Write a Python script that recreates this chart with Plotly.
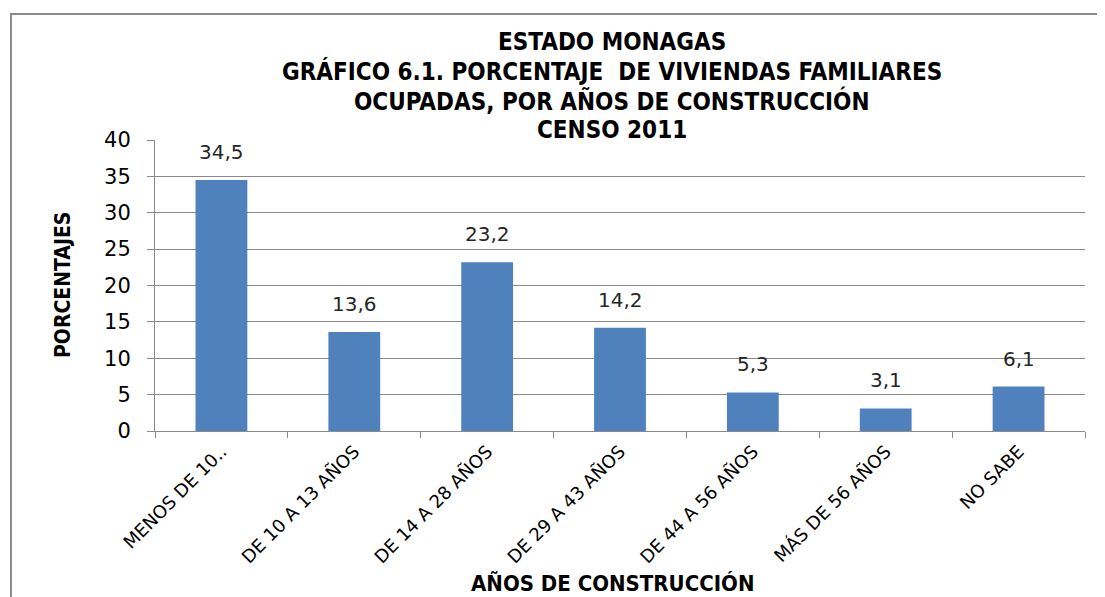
import plotly.graph_objects as go

categories = ["MENOS DE 10..", "DE 10 A 13 AÑOS", "DE 14 A 28 AÑOS", "DE 29 A 43 AÑOS",
              "DE 44 A 56 AÑOS", "MÁS DE 56 AÑOS", "NO SABE"]
values = [34.5, 13.6, 23.2, 14.2, 5.3, 3.1, 6.1]
labels = [f"{v:.1f}".replace(".", ",") for v in values]

title_lines = ["ESTADO MONAGAS",
               "GRÁFICO 6.1. PORCENTAJE  DE VIVIENDAS FAMILIARES",
               "OCUPADAS, POR AÑOS DE CONSTRUCCIÓN",
               "CENSO 2011"]

W, H = 1105, 597
OFF = 8  # page body margin offset
L, R, T, B = 155 - OFF, 28, 140 - OFF, 597 - (431 - OFF)
pw, ph = W - L - R, H - T - B

def px_x(p):
    return (p - OFF - L) / pw

def px_y(p):
    return (H - B - (p - OFF)) / ph

COND = dict(family="DejaVu Sans Condensed, DejaVu Sans", weight="bold", color="black")

fig = go.Figure(go.Bar(
    x=categories, y=values,
    marker=dict(color="#4F81BD", line=dict(width=0)),
    width=0.39,
))

for c, v, t in zip(categories, values, labels):
    fig.add_annotation(
        x=c, y=v, text=t, showarrow=False, yanchor="bottom", yshift=14,
        font=dict(family="DejaVu Sans", size=20, color="#262626"),
    )

fig.update_layout(
    width=W, height=H,
    margin=dict(l=L, r=R, t=T, b=B),
    paper_bgcolor="white", plot_bgcolor="white",
    showlegend=False,
    font=dict(family="DejaVu Sans", color="black"),
)

fig.update_yaxes(
    range=[0, 40], dtick=5, showgrid=True, gridcolor="#8a8a8a", gridwidth=1,
    showline=True, linecolor="#8a8a8a", linewidth=1,
    ticks="outside", ticklen=7, tickcolor="#8a8a8a", ticklabelstandoff=12,
    tickfont=dict(family="DejaVu Sans", size=21, color="black"),
    zeroline=False,
)
fig.update_xaxes(
    showline=True, linecolor="#8a8a8a", linewidth=1,
    ticks="outside", ticklen=6, tickcolor="#8a8a8a", tickson="boundaries",
    tickangle=-45, ticklabelstandoff=2,
    tickfont=dict(family="DejaVu Sans", size=18, color="black"),
)

# title
for i, line in enumerate(title_lines):
    fig.add_annotation(
        text=line, xref="paper", yref="paper",
        x=px_x(612), y=px_y(42 + i * 29.3), showarrow=False,
        xanchor="center", yanchor="middle",
        font=dict(size=24, **COND),
    )

# axis titles
fig.add_annotation(
    text="PORCENTAJES", xref="paper", yref="paper",
    x=px_x(63), y=px_y(285), textangle=-90, showarrow=False,
    xanchor="center", yanchor="middle",
    font=dict(size=21, **COND),
)
fig.add_annotation(
    text="AÑOS DE CONSTRUCCIÓN", xref="paper", yref="paper",
    x=px_x(612), y=px_y(583), showarrow=False,
    xanchor="center", yanchor="middle",
    font=dict(size=22, **COND),
)

# outer chart border
fig.add_shape(
    type="rect", xref="paper", yref="paper",
    x0=px_x(11), x1=px_x(1125), y0=px_y(620), y1=px_y(14),
    line=dict(color="#8c8c8c", width=2), fillcolor="rgba(0,0,0,0)", layer="below",
)

fig.write_html("out.html")
